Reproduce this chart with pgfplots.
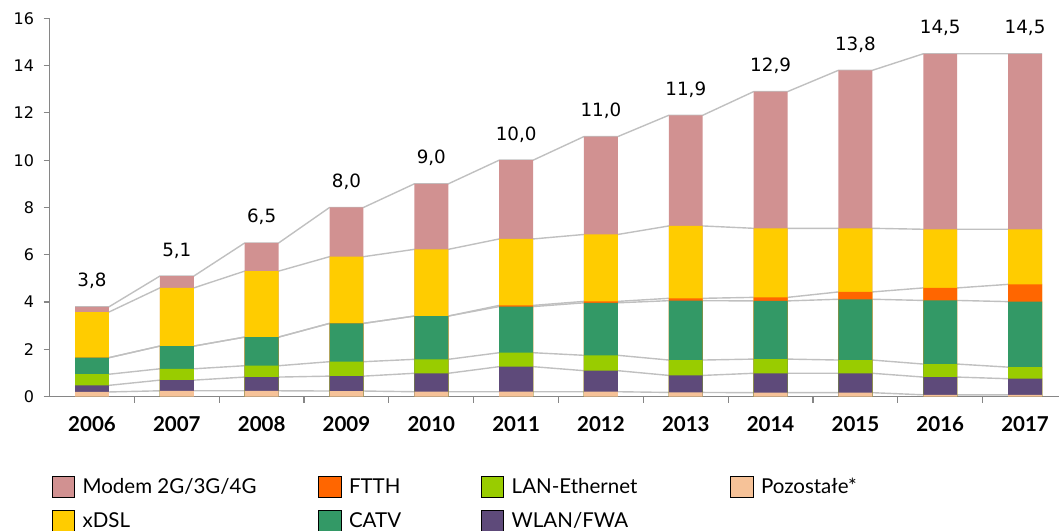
\documentclass[border=0pt]{standalone}
\usepackage{fontspec}
\usepackage{pgfplots}
\usepackage{pgfplotstable}
\pgfplotsset{compat=1.18}
\newfontfamily\lato{Lato}
\newfontfamily\dejavu{DejaVu Sans}
\definecolor{cModem}{RGB}{209,145,145}
\definecolor{cXdsl}{RGB}{255,204,0}
\definecolor{cFtth}{RGB}{255,102,0}
\definecolor{cCatv}{RGB}{51,153,102}
\definecolor{cLan}{RGB}{153,204,0}
\definecolor{cWlan}{RGB}{94,74,122}
\definecolor{cPoz}{RGB}{246,194,152}
\definecolor{axgray}{RGB}{134,134,134}
\definecolor{lngray}{RGB}{192,192,192}

% cumulative tops of each segment (bottom -> top), two rows per year (left/right bar edge)
\pgfplotstableread{
yr side poz wlan lan catv ftth xdsl modem
0 -1 0.20 0.48 0.95 1.65 1.65 3.58 3.80
0 1 0.20 0.48 0.95 1.65 1.65 3.58 3.80
1 -1 0.25 0.70 1.18 2.14 2.14 4.60 5.10
1 1 0.25 0.70 1.18 2.14 2.14 4.60 5.10
2 -1 0.25 0.83 1.31 2.52 2.52 5.31 6.50
2 1 0.25 0.83 1.31 2.52 2.52 5.31 6.50
3 -1 0.24 0.87 1.48 3.10 3.10 5.92 8.00
3 1 0.24 0.87 1.48 3.10 3.10 5.92 8.00
4 -1 0.21 0.99 1.58 3.41 3.41 6.23 9.00
4 1 0.21 0.99 1.58 3.41 3.41 6.23 9.00
5 -1 0.21 1.27 1.86 3.81 3.86 6.67 10.00
5 1 0.21 1.27 1.86 3.81 3.86 6.67 10.00
6 -1 0.21 1.10 1.75 3.97 4.03 6.86 11.00
6 1 0.21 1.10 1.75 3.97 4.03 6.86 11.00
7 -1 0.18 0.90 1.55 4.06 4.16 7.22 11.90
7 1 0.18 0.90 1.55 4.06 4.16 7.22 11.90
8 -1 0.17 0.99 1.59 4.05 4.20 7.12 12.90
8 1 0.17 0.99 1.59 4.05 4.20 7.12 12.90
9 -1 0.17 0.99 1.55 4.12 4.43 7.12 13.80
9 1 0.17 0.99 1.55 4.12 4.43 7.12 13.80
10 -1 0.08 0.83 1.38 4.07 4.60 7.08 14.50
10 1 0.08 0.83 1.38 4.07 4.60 7.08 14.50
11 -1 0.08 0.76 1.25 4.02 4.75 7.08 14.50
11 1 0.08 0.76 1.25 4.02 4.75 7.08 14.50
}\tops

\pgfplotsset{
  serline/.style={lngray, line width=1.4bp, sharp plot, mark=none, forget plot},
  mybar/.style={ybar, bar width=0.4, bar shift=0pt, draw=none, fill=#1, each nth point=2, forget plot},
}

\begin{document}
\begin{tikzpicture}
\useasboundingbox (0,0) rectangle (1059bp,531bp);
\begin{axis}[
  at={(49.6bp,134.3bp)}, anchor=south west,
  scale only axis, width=1009.4bp, height=378.4bp,
  xmin=-0.5, xmax=11.4, ymin=0, ymax=16,
  clip=false,
  axis x line*=bottom, axis y line*=left,
  axis line style={axgray, line width=1.2bp},
  tick align=outside,
  major tick length=6bp, minor tick length=6bp,
  xtick={0,...,11},
  xticklabels={2006,2007,2008,2009,2010,2011,2012,2013,2014,2015,2016,2017},
  minor xtick={0.5,1.5,...,10.5},
  major x tick style={draw=none},
  minor x tick style={axgray, line width=1.2bp},
  ytick={0,2,...,16},
  ytick style={axgray, line width=1.2bp},
  /pgf/number format/assume math mode=true,
  xticklabel style={font=\lato\bfseries\fontsize{20.5bp}{24bp}\selectfont, yshift=-10bp},
  yticklabel style={font=\dejavu\fontsize{16bp}{19bp}\selectfont, black, xshift=-6bp},
  legend columns=4,
  legend cell align=left,
  legend image code/.code={\fill[#1] (0bp,-10.5bp) rectangle (22.5bp,10.5bp); \path (30.5bp,0bp);},
  legend style={at={(axis description cs:0.0021,-0.2104)}, anchor=north west,
    draw=none, fill=none, inner sep=0pt, outer sep=0pt, row sep=12bp,
    font=\lato\fontsize{20.5bp}{24bp}\selectfont,
    nodes={inner sep=0pt, outer sep=0pt}},
]
% series lines (behind bars)
\addplot[serline] table[x expr=\thisrow{yr}+0.2*\thisrow{side}, y=poz] {\tops};
\addplot[serline] table[x expr=\thisrow{yr}+0.2*\thisrow{side}, y=wlan] {\tops};
\addplot[serline] table[x expr=\thisrow{yr}+0.2*\thisrow{side}, y=lan] {\tops};
\addplot[serline] table[x expr=\thisrow{yr}+0.2*\thisrow{side}, y=catv] {\tops};
\addplot[serline] table[x expr=\thisrow{yr}+0.2*\thisrow{side}, y=ftth] {\tops};
\addplot[serline] table[x expr=\thisrow{yr}+0.2*\thisrow{side}, y=xdsl] {\tops};
\addplot[serline] table[x expr=\thisrow{yr}+0.2*\thisrow{side}, y=modem] {\tops};
% bars, drawn from the tallest cumulative level down
\addplot[mybar=cModem] table[x=yr, y=modem] {\tops};
\addplot[mybar=cXdsl] table[x=yr, y=xdsl] {\tops};
\addplot[mybar=cFtth] table[x=yr, y=ftth] {\tops};
\addplot[mybar=cCatv] table[x=yr, y=catv] {\tops};
\addplot[mybar=cLan] table[x=yr, y=lan] {\tops};
\addplot[mybar=cWlan] table[x=yr, y=wlan] {\tops};
\addplot[mybar=cPoz] table[x=yr, y=poz] {\tops};
% totals
\addplot[draw=none, mark=none, each nth point=2, forget plot,
  point meta=y,
  nodes near coords={\pgfmathprintnumber[fixed,fixed zerofill,precision=1,use comma]{\pgfplotspointmeta}},
  nodes near coords style={font=\dejavu\fontsize{18.3bp}{22bp}\selectfont, anchor=base, yshift=20bp}]
  table[x=yr, y=modem] {\tops};
% legend
\addlegendimage{fill=cModem}\addlegendentry{\makebox[235.5bp][l]{Modem 2G/3G/4G}}
\addlegendimage{fill=cFtth}\addlegendentry{\makebox[131.8bp][l]{FTTH}}
\addlegendimage{fill=cLan}\addlegendentry{\makebox[218.5bp][l]{LAN-Ethernet}}
\addlegendimage{fill=cPoz}\addlegendentry{\makebox[120bp][l]{Pozostałe*}}
\addlegendimage{fill=cXdsl}\addlegendentry{\makebox[235.5bp][l]{xDSL}}
\addlegendimage{fill=cCatv}\addlegendentry{\makebox[131.8bp][l]{CATV}}
\addlegendimage{fill=cWlan}\addlegendentry{\makebox[218.5bp][l]{WLAN/FWA}}
\end{axis}
\end{tikzpicture}
\end{document}
